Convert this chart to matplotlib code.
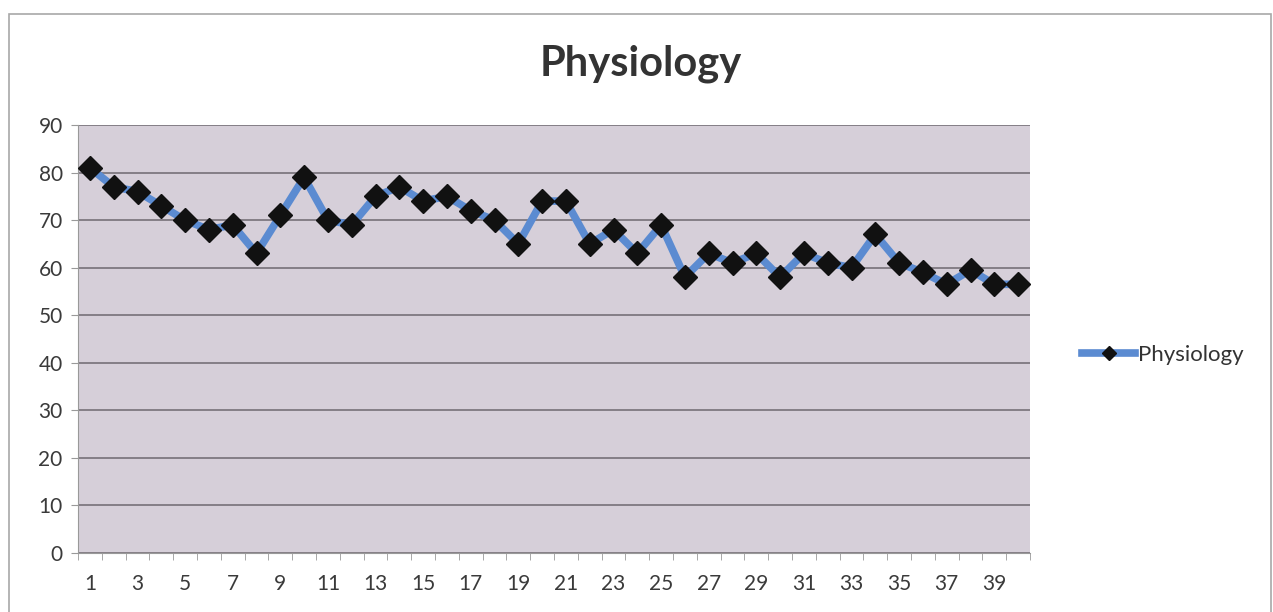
import matplotlib.pyplot as plt
from matplotlib.lines import Line2D
from matplotlib.patches import Rectangle

plt.rcParams['font.family'] = ['Lato', 'DejaVu Sans']

# 數據
days = list(range(1, 41))
physiology = [81, 77, 76, 73, 70, 68, 69, 63, 71, 79,
              70, 69, 75, 77, 74, 75, 72, 70, 65, 74,
              74, 65, 68, 63, 69, 58, 63, 61, 63, 58,
              63, 61, 60, 67, 61, 59, 56.5, 59.5, 56.5, 56.5]
y_ticks = list(range(0, 91, 10))
x_labels = list(range(1, 40, 2))

fig = plt.figure(figsize=(12.73, 6.12), dpi=100)
fig.patches.append(Rectangle((9 / 1273, -0.01), 1262 / 1273, 1 - 14 / 612 + 0.01,
                             transform=fig.transFigure, fill=False,
                             edgecolor='#a8a8a8', linewidth=1.2))

ax = fig.add_axes([78 / 1273, 1 - 553 / 612, 952 / 1273, 428 / 612])
ax.set_facecolor('#d6cfd9')

ax.plot(days, physiology, color='#5b8bd1', linewidth=5.5, marker='D',
        markersize=12, markerfacecolor='#111111', markeredgecolor='#111111',
        solid_capstyle='round', zorder=3)

ax.set_xlim(0.5, 40.5)
ax.set_ylim(0, 90)
ax.set_yticks(y_ticks)
ax.set_xticks(x_labels)
ax.set_xticklabels([str(v) for v in x_labels])
ax.set_xticks([v + 0.5 for v in range(0, 41)], minor=True)
ax.tick_params(axis='x', which='major', length=0, labelsize=15, colors='#3a3a3a', pad=15)
ax.tick_params(axis='x', which='minor', length=5, color='#999999')
ax.tick_params(axis='y', length=5, color='#999999', labelsize=15, colors='#3a3a3a', pad=6)
ax.yaxis.grid(True, color='#6e6870', linewidth=1.1)
ax.set_axisbelow(True)
for side in ['top', 'right']:
    ax.spines[side].set_visible(False)
ax.spines['left'].set_color('#999999')
ax.spines['bottom'].set_color('#999999')

fig.text(641 / 1273, 1 - 64 / 612, 'Physiology', ha='center', va='center',
         fontsize=30, fontweight='bold', color='#333333')

handle = Line2D([], [], color='#5b8bd1', linewidth=5.5, marker='D', markersize=7,
                markerfacecolor='#111111', markeredgecolor='#111111')
fig.legend([handle], ['Physiology'], loc='center left',
           bbox_to_anchor=(1062 / 1273, 1 - 355 / 612), frameon=False,
           fontsize=16, handlelength=2.4, handletextpad=0.1, labelcolor='#333333')

plt.savefig('out.png', dpi=100)
